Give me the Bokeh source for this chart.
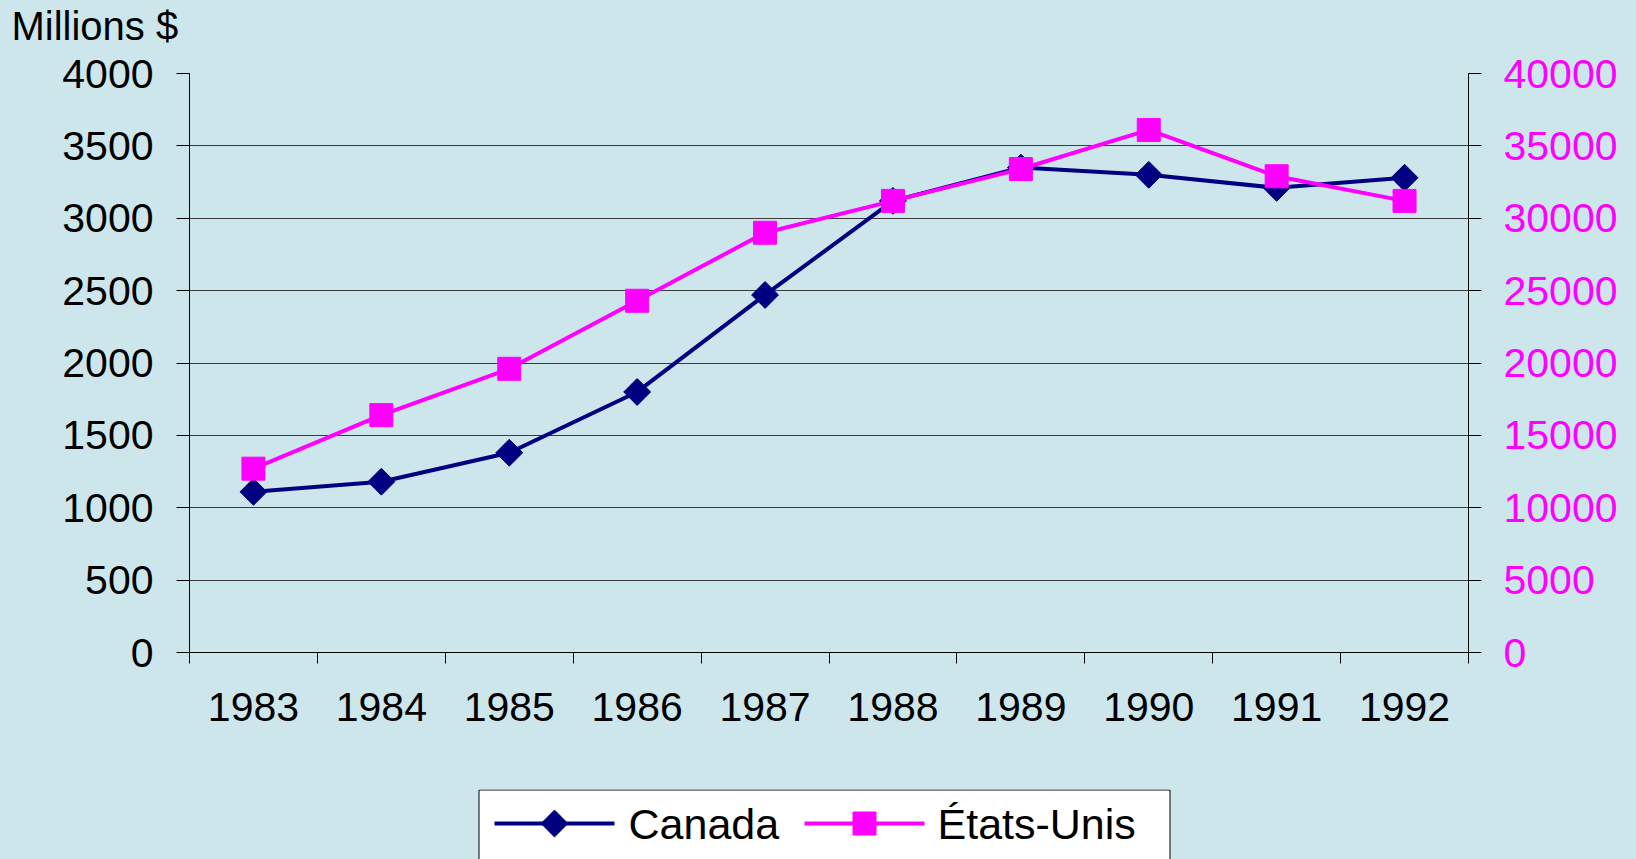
import math
from bokeh.plotting import figure
from bokeh.layouts import column
from bokeh.models import Range1d, LinearAxis, FixedTicker, NumeralTickFormatter
from bokeh.core.properties import value
from bokeh.embed import file_html
from bokeh.resources import INLINE

# ---- data ----
years = [1983, 1984, 1985, 1986, 1987, 1988, 1989, 1990, 1991, 1992]
canada = [1110, 1180, 1380, 1800, 2470, 3120, 3350, 3300, 3210, 3280]
etats_unis = [12700, 16400, 19600, 24300, 29000, 31200, 33400, 36100, 32900, 31200]
left_ticks = [0, 500, 1000, 1500, 2000, 2500, 3000, 3500, 4000]
right_ticks = [0, 5000, 10000, 15000, 20000, 25000, 30000, 35000, 40000]
y_title = "Millions $"
series_names = ["Canada", "États-Unis"]

BG = "#CCE6EC"
FONT = "Liberation Sans"
NAVY = "#000080"
MAGENTA = "#FF00FF"
TICK_FS = "41px"
DIAMOND_SIZE = 19
SQUARE_SIZE = 23
LINE_W = 4
W = 1636
LEFT, RIGHT = 189, 168
TOP_H, PLOT_H, LEG_H = 49, 740, 70
PLOT_TOP_BORDER = 24


def blank_strip(height):
    f = figure(width=W, height=height, output_backend="svg", toolbar_location=None,
               x_axis_type=None, y_axis_type=None,
               min_border_left=LEFT, min_border_right=RIGHT,
               min_border_top=0, min_border_bottom=0,
               background_fill_color=BG, background_fill_alpha=0,
               border_fill_color=BG, outline_line_color=None)
    f.xgrid.visible = False
    f.ygrid.visible = False
    return f


# ---- top strip carrying the unit title ----
top = blank_strip(TOP_H)
top.x_range = Range1d(0, 1)
top.y_range = Range1d(0, 1)
top.title_location = "below"
top.title.text = y_title
top.title.align = "left"
top.title.vertical_align = "top"
top.title.offset = -178
top.title.text_font = FONT
top.title.text_font_size = "40px"
top.title.text_font_style = "normal"
top.title.text_color = "black"
top.title.standoff = 0

# ---- main chart ----
p = figure(width=W, height=PLOT_H, output_backend="svg", toolbar_location=None,
           x_range=Range1d(years[0] - 0.5, years[-1] + 0.5),
           y_range=Range1d(left_ticks[0], left_ticks[-1]),
           min_border_left=LEFT, min_border_right=RIGHT,
           min_border_top=PLOT_TOP_BORDER, min_border_bottom=137,
           background_fill_color=BG, border_fill_color=BG,
           outline_line_color=None)
p.title.visible = False
p.extra_y_ranges = {"us": Range1d(right_ticks[0], right_ticks[-1])}

# x axis
xa = p.xaxis[0]
bounds = [y - 0.5 for y in years] + [years[-1] + 0.5]
xa.ticker = FixedTicker(ticks=years, minor_ticks=bounds)
xa.formatter = NumeralTickFormatter(format="0")
xa.major_tick_line_color = None
xa.major_tick_out = 0
xa.major_tick_in = 0
xa.minor_tick_line_color = "black"
xa.minor_tick_out = 11
xa.minor_tick_in = 0
xa.axis_line_color = "black"
xa.major_label_standoff = 29
xa.major_label_text_font = FONT
xa.major_label_text_font_size = TICK_FS
xa.major_label_text_color = "black"

# left axis
ya = p.yaxis[0]
ya.ticker = FixedTicker(ticks=left_ticks)
ya.formatter = NumeralTickFormatter(format="0")
ya.major_tick_out = 13
ya.major_tick_in = 0
ya.minor_tick_line_color = None
ya.axis_line_color = "black"
ya.major_tick_line_color = "black"
ya.major_label_standoff = 23
ya.major_label_text_font = FONT
ya.major_label_text_font_size = TICK_FS
ya.major_label_text_color = "black"

# right axis
ra = LinearAxis(y_range_name="us", ticker=FixedTicker(ticks=right_ticks),
                formatter=NumeralTickFormatter(format="0"))
ra.major_tick_out = 13
ra.major_tick_in = 0
ra.minor_tick_line_color = None
ra.axis_line_color = "black"
ra.major_tick_line_color = "black"
ra.major_label_standoff = 22
ra.major_label_text_font = FONT
ra.major_label_text_font_size = TICK_FS
ra.major_label_text_color = MAGENTA
p.add_layout(ra, "right")

# grid
p.xgrid.visible = False
p.ygrid.ticker = FixedTicker(ticks=left_ticks)
p.ygrid.grid_line_color = "#3c3c3c"
p.ygrid.grid_line_width = 1

# series
p.line(years, canada, line_color=NAVY, line_width=LINE_W)
p.scatter(years, canada, marker="square", angle=math.pi / 4, size=DIAMOND_SIZE,
          fill_color=NAVY, line_color=NAVY)
p.line(years, etats_unis, y_range_name="us", line_color=MAGENTA, line_width=LINE_W)
p.scatter(years, etats_unis, y_range_name="us", marker="square", size=SQUARE_SIZE,
          fill_color=MAGENTA, line_color=MAGENTA)

# ---- legend strip (page-pixel layout units, box cut off at the bottom edge) ----
lg = blank_strip(LEG_H)
lg.x_range = Range1d(LEFT, W - RIGHT)
lg.y_range = Range1d(LEG_H, 0)

box_l, box_r, box_t = 478.5, 1169.5, 0.5
row_y = 34
lg.quad(left=[box_l], right=[box_r], top=[box_t], bottom=[LEG_H + 20],
        fill_color="white", line_color="black", line_width=1)
items = [
    dict(x0=494, x1=614, tx=628, color=NAVY, marker="square",
         angle=math.pi / 4, size=DIAMOND_SIZE, name=series_names[0]),
    dict(x0=804, x1=924, tx=937, color=MAGENTA, marker="square",
         angle=0.0, size=SQUARE_SIZE, name=series_names[1]),
]
for it in items:
    lg.segment(x0=[it["x0"]], y0=[row_y], x1=[it["x1"]], y1=[row_y],
               line_color=it["color"], line_width=LINE_W)
    lg.scatter(x=[(it["x0"] + it["x1"]) / 2], y=[row_y], marker=it["marker"],
               angle=it["angle"], size=it["size"],
               fill_color=it["color"], line_color=it["color"])
    lg.text(x=[it["tx"]], y=[row_y], text=[it["name"]],
            text_font=value(FONT), text_font_size="43px",
            text_color="black", text_align="left", text_baseline="middle")

layout = column(top, p, lg, spacing=0, styles={"background-color": BG})
open("out.html", "w").write(file_html(layout, INLINE))
